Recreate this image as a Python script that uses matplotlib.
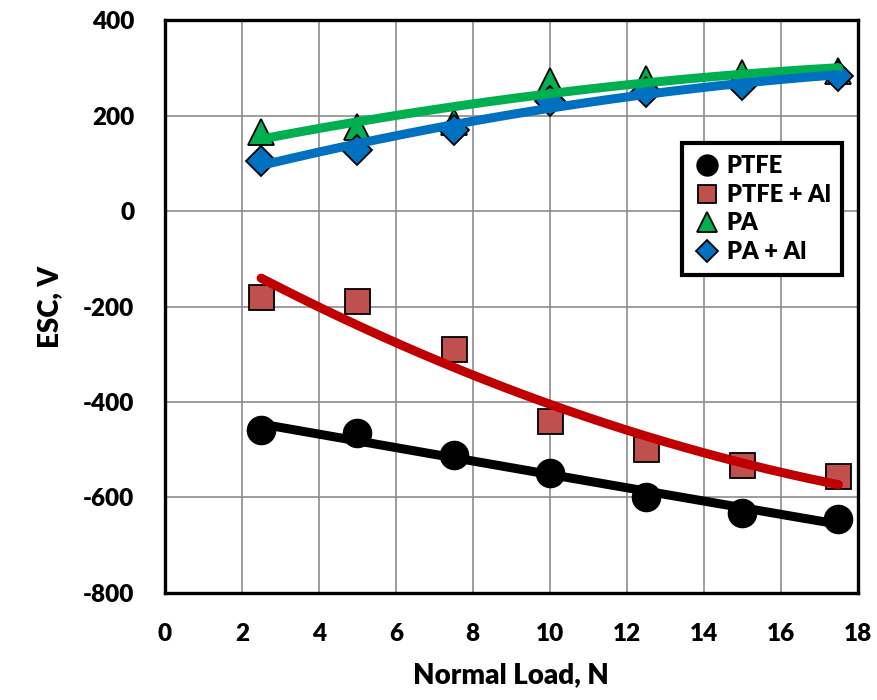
import matplotlib
matplotlib.use("Agg")
import matplotlib.pyplot as plt
import numpy as np

plt.rcParams['font.family'] = ['Lato', 'DejaVu Sans']
plt.rcParams['font.weight'] = 'heavy'
plt.rcParams['axes.unicode_minus'] = False

# normal load, N
load = [2.5, 5, 7.5, 10, 12.5, 15, 17.5]

# ESC, V
ptfe = [-459, -465, -511, -549, -599, -632, -645]
ptfe_al = [-180, -189, -289, -440, -498, -532, -555]
pa = [165, 177, 187, 272, 277, 289, 293]
pa_al = [106, 128, 170, 231, 249, 265, 284]

series = [
    ("PTFE", ptfe, "o", "black", "black", 20),
    ("PTFE + Al", ptfe_al, "s", "#C0504D", "#C00000", 18),
    ("PA", pa, "^", "#00B050", "#00B050", 19),
    ("PA + Al", pa_al, "D", "#0070C0", "#0070C0", 15),
]

fig = plt.figure(figsize=(8.77, 7), dpi=100)
ax = fig.add_axes([0.188, 0.153, 0.79, 0.818])

x = np.array(load)
# markers first, trend lines on top (as in the original)
for name, y, m, fc, lc, ms in series:
    ax.plot(x, y, linestyle="none", marker=m, markersize=ms,
            markerfacecolor=fc, markeredgecolor="black",
            markeredgewidth=1.3, label=name, zorder=3)

xs = np.linspace(x.min(), x.max(), 200)
for name, y, m, fc, lc, ms in series:
    coef = np.polyfit(x, y, 2)
    ax.plot(xs, np.polyval(coef, xs), color=lc, linewidth=6.5,
            solid_capstyle="round", zorder=4)

ax.set_xlim(0, 18)
ax.set_ylim(-800, 400)
ax.set_xticks(np.arange(0, 19, 2))
ax.set_yticks(np.arange(-800, 401, 200))
ax.grid(True, color="#8c8c8c", linewidth=1.2)
ax.set_axisbelow(True)
ax.tick_params(length=0, pad=22, labelsize=17.5)
for lab in ax.get_xticklabels() + ax.get_yticklabels():
    lab.set_fontweight("heavy")
for sp in ax.spines.values():
    sp.set_linewidth(2.4)
    sp.set_color("black")

ax.set_xlabel("Normal Load, N", fontsize=20, fontweight="heavy", labelpad=12)
ax.set_ylabel("ESC, V", fontsize=20, fontweight="heavy", labelpad=14)

leg = ax.legend(loc="upper right", bbox_to_anchor=(0.978, 0.785),
                borderaxespad=0, fontsize=17, markerscale=0.74,
                handletextpad=0.3, handlelength=1.1, borderpad=0.5,
                labelspacing=0.28, fancybox=False, framealpha=1,
                edgecolor="black")
leg.get_frame().set_linewidth(3)
for t in leg.get_texts():
    t.set_fontweight("heavy")

fig.savefig("out.png", dpi=100)
